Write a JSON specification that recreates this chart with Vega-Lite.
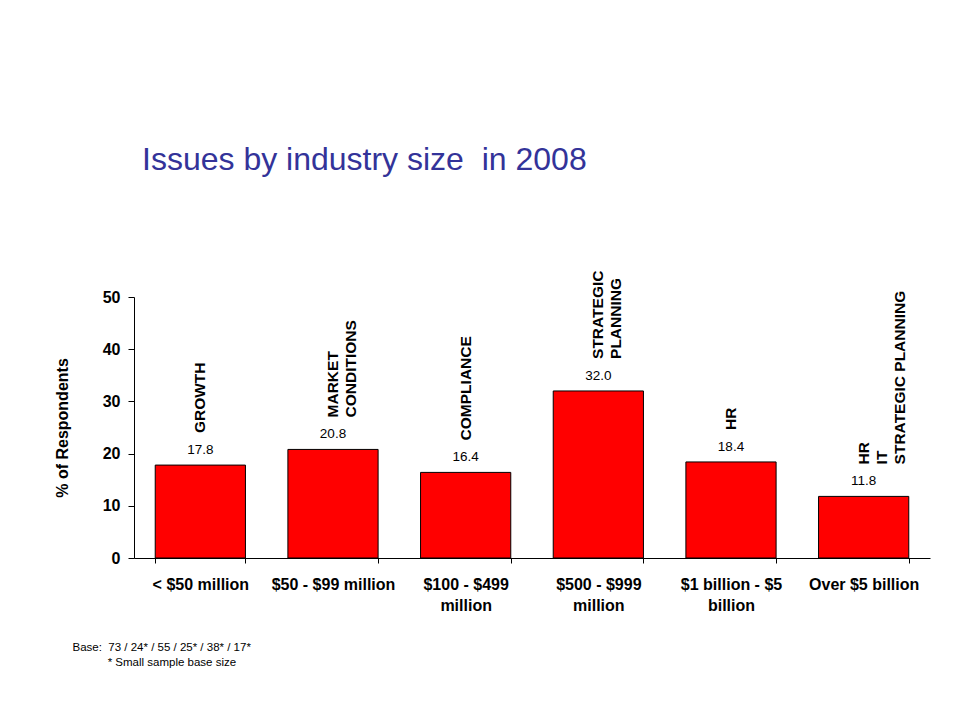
{
  "$schema": "https://vega.github.io/schema/vega-lite/v6.json",
  "width": 796,
  "height": 261,
  "autosize": {"type": "none"},
  "padding": {"left": 134, "top": 297, "right": 26, "bottom": 165},
  "background": "white",
  "config": {"font": "Liberation Sans", "view": {"stroke": null}},
  "title": {
    "text": "Issues by industry size\u00a0 in 2008",
    "anchor": "start",
    "frame": "group",
    "dx": 8,
    "offset": 69,
    "baseline": "alphabetic",
    "fontSize": 32,
    "fontWeight": "normal",
    "color": "#333399"
  },
  "data": {
    "values": [
      {"size": "< $50 million", "pct": 17.8, "issue": "GROWTH"},
      {"size": "$50 - $99 million", "pct": 20.8, "issue": "MARKET\nCONDITIONS"},
      {"size": "$100 - $499 million", "pct": 16.4, "issue": "COMPLIANCE"},
      {"size": "$500 - $999 million", "pct": 32.0, "issue": "STRATEGIC\nPLANNING"},
      {"size": "$1 billion - $5 billion", "pct": 18.4, "issue": "HR"},
      {"size": "Over $5 billion", "pct": 11.8, "issue": "HR\nIT\nSTRATEGIC PLANNING"}
    ]
  },
  "encoding": {
    "x": {
      "field": "size",
      "type": "nominal",
      "sort": null,
      "scale": {"paddingInner": 0.32, "paddingOuter": 0.16},
      "axis": {
        "title": ["Base:\u00a0 73 / 24* / 55 / 25* / 38* / 17*", "\u200b\u00a0\u00a0\u00a0\u00a0\u00a0\u00a0\u00a0\u00a0\u00a0\u00a0\u00a0* Small sample base size"],
        "titleFontSize": 11.5,
        "titleFontWeight": "normal",
        "titleColor": "black",
        "titleAlign": "left",
        "titleAnchor": "start",
        "titleX": -62,
        "titleY": 92,
        "titleBaseline": "alphabetic",
        "titleLineHeight": 15,
        "labelAngle": 0,
        "labelFontSize": 16,
        "labelFontWeight": "bold",
        "labelColor": "black",
        "labelPadding": 13,
        "labelLineHeight": 21,
        "labelBaseline": "top",
        "labelLimit": 0,
        "labelExpr": "datum.value == '$100 - $499 million' ? ['$100 - $499', 'million'] : datum.value == '$500 - $999 million' ? ['$500 - $999', 'million'] : datum.value == '$1 billion - $5 billion' ? ['$1 billion - $5', 'billion'] : datum.value",
        "tickBand": "extent",
        "tickSize": 5,
        "tickColor": "black",
        "domainColor": "black"
      }
    },
    "y": {
      "field": "pct",
      "type": "quantitative",
      "scale": {"domain": [0, 50]},
      "axis": {
        "title": "% of Respondents",
        "titleFontSize": 16,
        "titleFontWeight": "bold",
        "titleColor": "black",
        "titlePadding": 32,
        "values": [0, 10, 20, 30, 40, 50],
        "labelFontSize": 16,
        "labelFontWeight": "bold",
        "labelColor": "black",
        "labelPadding": 8,
        "tickSize": 6,
        "tickColor": "black",
        "domainColor": "black",
        "grid": false
      }
    }
  },
  "layer": [
    {"mark": {"type": "bar", "fill": "#ff0000", "stroke": "black", "strokeWidth": 1}},
    {
      "mark": {"type": "text", "baseline": "bottom", "dy": -8, "fontSize": 13.5, "color": "black"},
      "encoding": {"text": {"field": "pct", "type": "quantitative", "format": ".1f"}}
    },
    {
      "mark": {"type": "text", "angle": 270, "align": "left", "baseline": "middle", "dx": 32, "fontSize": 15.5, "fontWeight": "bold", "lineBreak": "\n", "lineHeight": 18, "color": "black"},
      "encoding": {"text": {"field": "issue", "type": "nominal"}}
    }
  ]
}
